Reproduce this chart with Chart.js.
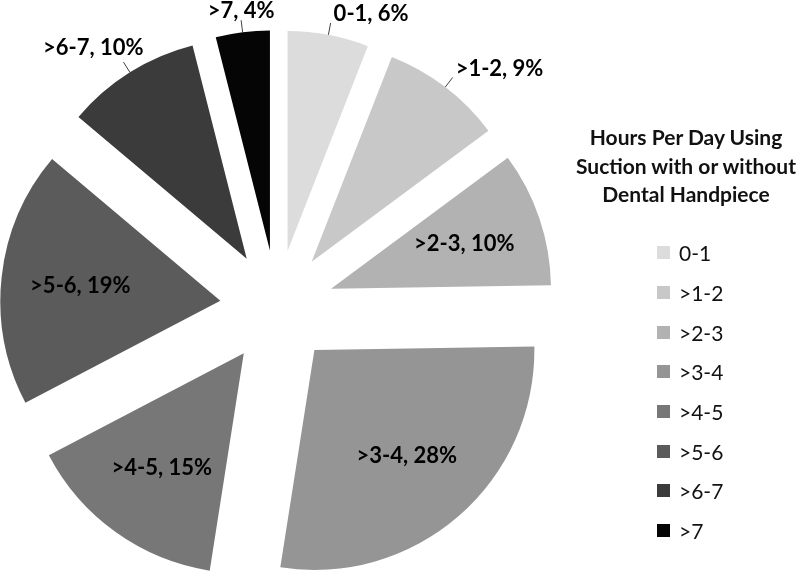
<!DOCTYPE html>
<html>
<head>
<meta charset="utf-8">
<script src="https://cdn.jsdelivr.net/npm/chart.js@4.4.1/dist/chart.umd.min.js"></script>
<style>
  html, body { margin: 0; padding: 0; background: #fff; }
  #wrap { position: relative; width: 800px; height: 574px; font-family: Lato, "Open Sans", sans-serif; color: #111; }
  #pie { position: absolute; left: 0; top: 0; }
  #legendTitle {
    position: absolute; left: 556px; top: 123px; width: 260px;
    text-align: center; font-weight: bold; font-size: 21px; line-height: 28.5px;
  }
  #legend { position: absolute; left: 657px; top: 233px; margin: 0; padding: 0; list-style: none; }
  #legend li { height: 39.7px; display: flex; align-items: center; font-size: 21px; }
  #legend span.box { width: 13px; height: 13px; margin-right: 9px; display: inline-block; }
</style>
</head>
<body>
<div id="wrap">
  <canvas id="pie" width="800" height="574"></canvas>
  <div id="legendTitle">Hours Per Day Using<br>Suction with or without<br>Dental Handpiece</div>
  <ul id="legend"></ul>
</div>
<script>
// hours per day categories and share of respondents (%)
const categories = ["0-1", ">1-2", ">2-3", ">3-4", ">4-5", ">5-6", ">6-7", ">7"];
const percentages = [6, 9, 10, 28, 15, 19, 10, 4];
const sliceColors = ["#dcdcdc", "#c8c8c8", "#b2b2b2", "#959595", "#777777", "#5b5b5b", "#3b3b3b", "#050505"];
// small slices get their label outside with a leader line
const outsideLabels = ["0-1", ">1-2", ">6-7", ">7"];

const EXPLODE = 57;     // how far every slice is pulled out
const LEAD = 12;        // leader line length

// draw each slice pulled out along its middle angle
const explodePlugin = {
    id: "explode",
    beforeDatasetDraw(chart, args) {
        const ctx = chart.ctx;
        args.meta.data.forEach(arc => {
            const mid = (arc.startAngle + arc.endAngle) / 2;
            ctx.save();
            ctx.translate(Math.cos(mid) * EXPLODE, Math.sin(mid) * EXPLODE);
            arc.draw(ctx, chart.chartArea);
            ctx.restore();
        });
        return false;
    }
};

const sliceLabels = {
    id: "sliceLabels",
    afterDatasetsDraw(chart) {
        const ctx = chart.ctx;
        const meta = chart.getDatasetMeta(0);
        ctx.save();
        ctx.font = "bold 22px Lato, 'Open Sans', sans-serif";
        ctx.fillStyle = "#000";
        ctx.strokeStyle = "#404040";
        ctx.lineWidth = 1;
        ctx.textBaseline = "middle";
        meta.data.forEach((arc, i) => {
            const p = arc.getProps(["x", "y", "startAngle", "endAngle", "outerRadius"], true);
            const mid = (p.startAngle + p.endAngle) / 2;
            const cos = Math.cos(mid), sin = Math.sin(mid);
            const cx = p.x + cos * EXPLODE, cy = p.y + sin * EXPLODE;
            const text = categories[i] + ", " + percentages[i] + "%";
            if (outsideLabels.includes(categories[i])) {
                const x0 = cx + cos * p.outerRadius, y0 = cy + sin * p.outerRadius;
                const x1 = x0 + cos * LEAD, y1 = y0 + sin * LEAD;
                ctx.beginPath();
                ctx.moveTo(x0, y0);
                ctx.lineTo(x1, y1);
                ctx.stroke();
                let tx = x1;
                let ty = y1 - 9;
                if (Math.abs(cos) < 0.15) {
                    ctx.textAlign = "center";
                } else if (cos > 0) {
                    ctx.textAlign = "left";
                    tx = x1 + 3;
                } else {
                    ctx.textAlign = "right";
                    tx = x1 + 20;
                    ty = y1 - 14;
                }
                ctx.fillText(text, tx, ty);
            } else {
                const r = p.outerRadius * 0.64;
                ctx.textAlign = "center";
                ctx.fillText(text, cx + cos * r, cy + sin * r);
            }
        });
        ctx.restore();
    }
};

const chart = new Chart(document.getElementById("pie"), {
    type: "pie",
    data: {
        labels: categories,
        datasets: [{
            data: percentages,
            backgroundColor: sliceColors,
            borderWidth: 0
        }]
    },
    options: {
        responsive: false,
        animation: false,
        events: [],
        radius: 220,
        layout: { padding: { top: 40, right: 246, left: 0, bottom: 0 } },
        plugins: {
            legend: { display: false },
            tooltip: { enabled: false }
        }
    },
    plugins: [explodePlugin, sliceLabels]
});

// html legend from the chart's own legend items
const legendEl = document.getElementById("legend");
chart.options.plugins.legend.labels.generateLabels(chart).forEach(item => {
    const li = document.createElement("li");
    const box = document.createElement("span");
    box.className = "box";
    box.style.background = item.fillStyle;
    li.appendChild(box);
    li.appendChild(document.createTextNode(item.text));
    legendEl.appendChild(li);
});
</script>
</body>
</html>
